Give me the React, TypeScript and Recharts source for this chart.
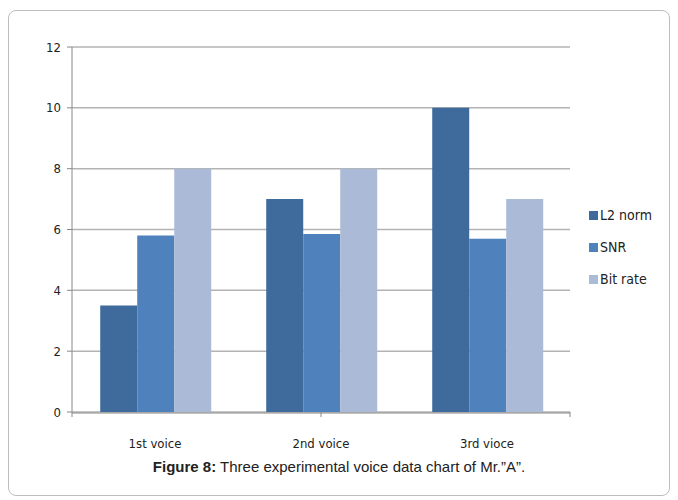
import { BarChart, Bar, XAxis, YAxis, CartesianGrid, Legend } from 'recharts';

const voices = ['1st voice', '2nd voice', '3rd vioce'];
const l2Norm = [3.5, 7, 10];
const snr = [5.8, 5.85, 5.7];
const bitRate = [8, 8, 7];
const yTicks = [0, 2, 4, 6, 8, 10, 12];
const edgeTicks = [0, 1, 2, 3];
const seriesNames = ['L2 norm', 'SNR', 'Bit rate'];
const seriesColors = ['#3F6A9C', '#4F81BD', '#AABAD7'];

const chartData = voices.map((name, i) => ({
  name,
  'L2 norm': l2Norm[i],
  SNR: snr[i],
  'Bit rate': bitRate[i],
}));

const narrow = '"Liberation Sans Narrow", "DejaVu Sans Condensed", sans-serif';

function LegendBox() {
  return (
    <div style={{ fontFamily: narrow, fontSize: 14, color: '#222' }}>
      {seriesNames.map((name, i) => (
        <div key={name} style={{ display: 'flex', alignItems: 'center', height: 32 }}>
          <span style={{ width: 9, height: 9, background: seriesColors[i], display: 'inline-block', marginRight: 2 }} />
          {name}
        </div>
      ))}
    </div>
  );
}

export default function App() {
  return (
    <div
      style={{
        position: 'relative',
        width: 660,
        height: 484,
        marginTop: 2,
        border: '1px solid #bdbdbd',
        borderRadius: 8,
        background: '#fff',
      }}
    >
      <BarChart
        width={660}
        height={440}
        data={chartData}
        barCategoryGap="17%"
        barGap={0}
        margin={{ top: 36, right: 99, left: 0, bottom: 8 }}
      >
        <CartesianGrid vertical={false} xAxisId="main" stroke="#b3b3b3" strokeWidth={1.5} />
        <XAxis
          xAxisId="edge"
          type="number"
          domain={[0, 3]}
          ticks={edgeTicks}
          height={1}
          tickFormatter={() => ''}
          axisLine={false}
          tickLine={{ stroke: '#888' }}
          tickSize={5}
        />
        <XAxis
          xAxisId="main"
          dataKey="name"
          height={30}
          axisLine={{ stroke: '#888' }}
          tickLine={false}
          tick={{ fill: '#222', fontSize: 13, fontFamily: narrow }}
          tickMargin={20}
        />
        <YAxis
          domain={[0, 12]}
          ticks={yTicks}
          width={63}
          axisLine={{ stroke: '#888' }}
          tickLine={{ stroke: '#888' }}
          tickSize={5}
          tick={{ fill: '#222', fontSize: 13, fontFamily: narrow }}
          tickMargin={6}
        />
        <Legend
          layout="vertical"
          align="center"
          verticalAlign="middle"
          content={<LegendBox />}
          wrapperStyle={{ left: 580, top: 188, width: 80 }}
        />
        {seriesNames.map((name, i) => (
          <Bar key={name} xAxisId="main" dataKey={name} fill={seriesColors[i]} isAnimationActive={false} />
        ))}
      </BarChart>
      <div
        style={{
          position: 'absolute',
          left: 0,
          right: 0,
          top: 447,
          textAlign: 'center',
          fontFamily: '"Liberation Sans", Arial, sans-serif',
          fontSize: 15,
          color: '#222',
        }}
      >
        <b>Figure 8:</b> Three experimental voice data chart of Mr.”A”.
      </div>
    </div>
  );
}
